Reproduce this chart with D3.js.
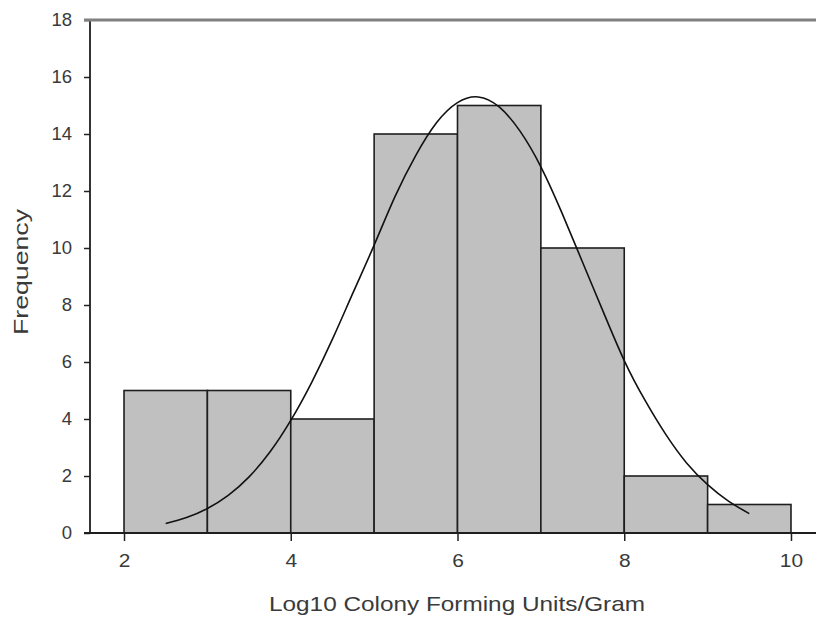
<!DOCTYPE html>
<html>
<head>
<meta charset="utf-8">
<script src="https://cdn.jsdelivr.net/npm/d3@7"></script>
<style>
  html, body { margin: 0; padding: 0; background: #fff; overflow: hidden; }
  svg { display: block; }
  svg text { font-family: Arial, "Liberation Sans", sans-serif; fill: #3a3a3a; }
</style>
</head>
<body>
<div id="chart"></div>
<script>
// histogram bins (lower edge, upper edge) and counts
var binStarts = [2, 3, 4, 5, 6, 7, 8, 9];
var binEnds = [3, 4, 5, 6, 7, 8, 9, 10];
var counts = [5, 5, 4, 14, 15, 10, 2, 1];

// fitted normal curve
var curveX = [2.5, 2.75, 3, 3.25, 3.5, 3.75, 4, 4.25, 4.5, 4.75, 5, 5.25, 5.5, 5.75,
  6, 6.25, 6.5, 6.75, 7, 7.25, 7.5, 7.75, 8, 8.25, 8.5, 8.75, 9, 9.25, 9.5];
var curveY = [0.33, 0.54, 0.86, 1.32, 1.97, 2.84, 3.95, 5.28, 6.8, 8.45, 10.1, 11.8, 13.25, 14.4,
  15.1, 15.3, 14.95, 14.1, 12.85, 11.25, 9.5, 7.75, 6.05, 4.65, 3.45, 2.45, 1.7, 1.12, 0.68];

var xTicks = [2, 4, 6, 8, 10];
var yTicks = [0, 2, 4, 6, 8, 10, 12, 14, 16, 18];

(function() {
    var width = 816,
        height = 621,
        plotLeft = 90,
        plotTop = 20,
        plotBottom = 533;

    var svg = d3.select("#chart").append("svg")
        .attr("width", width)
        .attr("height", height);

    var x = d3.scaleLinear().domain([1.592, 10.3]).range([plotLeft, width]);
    var y = d3.scaleLinear().domain([0, 18]).range([plotBottom, plotTop]);

    //Bars
    var bins = counts.map(function(c, i) {
        return {x0: binStarts[i], x1: binEnds[i], n: c};
    });

    svg.append("g").selectAll("rect")
        .data(bins)
        .enter()
        .append("rect")
        .attr("x", function(d) { return x(d.x0); })
        .attr("y", function(d) { return y(d.n); })
        .attr("width", function(d) { return x(d.x1) - x(d.x0); })
        .attr("height", function(d) { return y(0) - y(d.n); })
        .attr("fill", "#c0c0c0")
        .attr("stroke", "#1e1e1e")
        .attr("stroke-width", 1.6);

    //Normal curve
    var pts = curveX.map(function(v, i) { return [v, curveY[i]]; });
    svg.append("path")
        .datum(pts)
        .attr("fill", "none")
        .attr("stroke", "#111")
        .attr("stroke-width", 1.6)
        .attr("d", d3.line()
            .x(function(d) { return x(d[0]); })
            .y(function(d) { return y(d[1]); })
            .curve(d3.curveNatural));

    //Axes
    var yAxis = svg.append("g")
        .attr("transform", "translate(" + plotLeft + ",0)")
        .call(d3.axisLeft(y).tickValues(yTicks).tickSize(6).tickPadding(12));
    yAxis.select(".domain").remove();
    yAxis.selectAll("line").attr("stroke", "#222").attr("stroke-width", 1.5);
    yAxis.selectAll("text")
        .attr("font-size", "18.5px")
        .attr("fill", "#3a3a3a");

    var xAxis = svg.append("g")
        .attr("transform", "translate(0," + plotBottom + ")")
        .call(d3.axisBottom(x).tickValues(xTicks).tickSize(8).tickPadding(13));
    xAxis.select(".domain").remove();
    xAxis.selectAll("line").attr("stroke", "#222").attr("stroke-width", 1.5);
    xAxis.selectAll("text")
        .attr("font-size", "19px")
        .attr("transform", "scale(1.1,1)")
        .attr("fill", "#3a3a3a");

    //Frame lines
    svg.append("line")
        .attr("x1", plotLeft).attr("x2", plotLeft)
        .attr("y1", y(18)).attr("y2", y(0))
        .attr("stroke", "#1e1e1e").attr("stroke-width", 1.8);
    svg.append("line")
        .attr("x1", plotLeft - 6).attr("x2", width)
        .attr("y1", y(0)).attr("y2", y(0))
        .attr("stroke", "#1e1e1e").attr("stroke-width", 1.8);
    svg.append("line")
        .attr("x1", plotLeft - 6).attr("x2", width)
        .attr("y1", y(18)).attr("y2", y(18))
        .attr("stroke", "#808080").attr("stroke-width", 3);

    //Axis titles
    svg.append("text")
        .attr("x", 269)
        .attr("y", 611)
        .attr("font-size", "21px")
        .attr("textLength", 376)
        .attr("lengthAdjust", "spacingAndGlyphs")
        .text("Log10 Colony Forming Units/Gram");

    svg.append("text")
        .attr("transform", "translate(28,272) rotate(-90)")
        .attr("text-anchor", "middle")
        .attr("font-size", "21px")
        .attr("textLength", 126)
        .attr("lengthAdjust", "spacingAndGlyphs")
        .text("Frequency");
}());
</script>
</body>
</html>
